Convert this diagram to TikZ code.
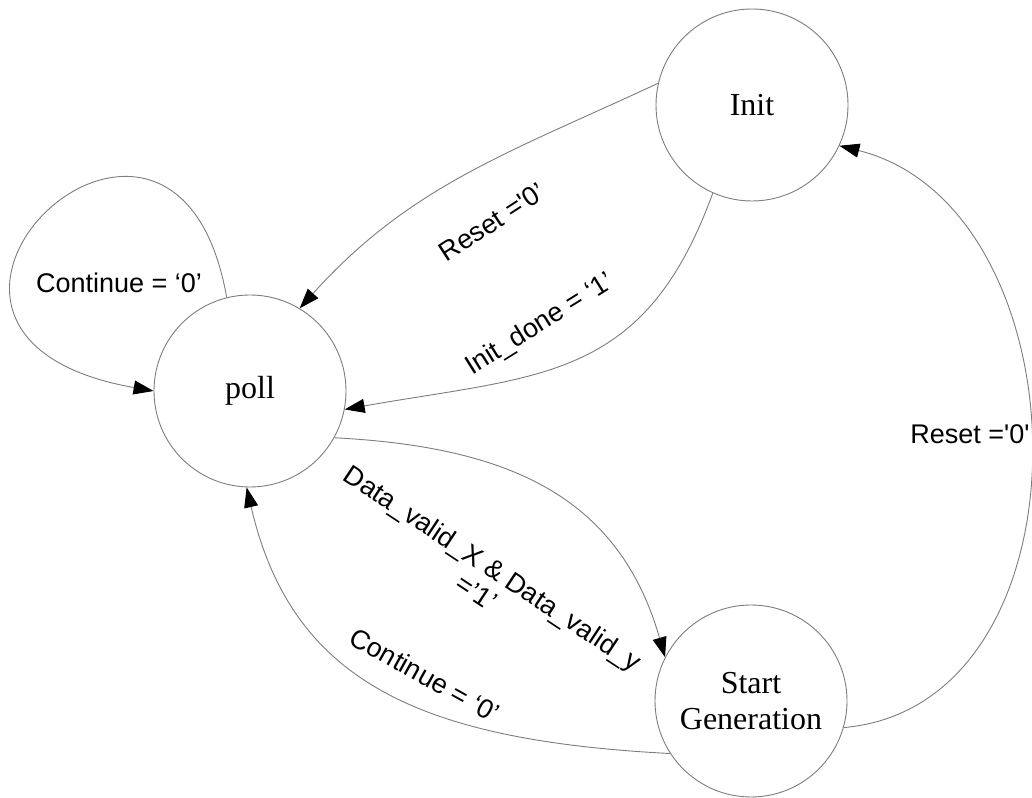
\documentclass[tikz,border=0pt]{standalone}
\usepackage{fontspec}
\setmainfont{Liberation Serif}
\setsansfont{Liberation Sans}
\usetikzlibrary{arrows.meta}
\definecolor{linegray}{RGB}{125,125,125}
\begin{document}
\begin{tikzpicture}[x=1pt,y=1pt,
  state/.style={circle, draw=linegray, line width=0.9pt, minimum size=192pt, inner sep=0pt,
    align=center, font=\fontsize{32}{36}\selectfont},
  trans/.style={draw=linegray, line width=0.9pt,
    -{Triangle[length=20pt,width=14pt,color=black]}},
  lbl/.style={font=\sffamily\fontsize{27}{29.5}\selectfont, align=center, inner sep=0pt}]
\useasboundingbox (0,0) rectangle (1032,797);

% states
\node[state] (init)  at (752,692) {Init};
\node[state] (poll)  at (250,406) {poll};
\node[state] (start) at (751,96)  {Start\\Generation};

% transitions
\draw[trans] (init.167) to[out=205, in=48] (poll.59);
\draw[trans] (init.246) to[out=250, in=10, looseness=1.2] (poll.349);
\draw[trans] (poll.104) .. controls +(100:300) and +(170:330) .. (poll.180);
\draw[trans] (poll.331) to[out=-3, in=106, looseness=1.1] (start.153);
\draw[trans] (start.213) .. controls +(177:250) and +(283:200) .. (poll.268);
\draw[trans] (start.344) .. controls +(5:256) and +(-14:256) .. (init.335);

% transition labels
\node[lbl, rotate=33]  (l1) at (492,575) {Reset =\textquotesingle 0’};
\node[lbl, rotate=32]  (l2) at (540,472) {Init\_done = ‘1’};
\node[lbl]             (l3) at (119,514) {Continue = ‘0’};
\node[lbl, rotate=-33.5] (l4) at (485,217) {Data\_valid\_X \& Data\_valid\_y\\=’1’};
\node[lbl, rotate=-29] (l5) at (425,122) {Continue = ‘0’};
\node[lbl]             (l6) at (970,363) {Reset =\textquotesingle 0\textquotesingle};
\end{tikzpicture}
\end{document}
